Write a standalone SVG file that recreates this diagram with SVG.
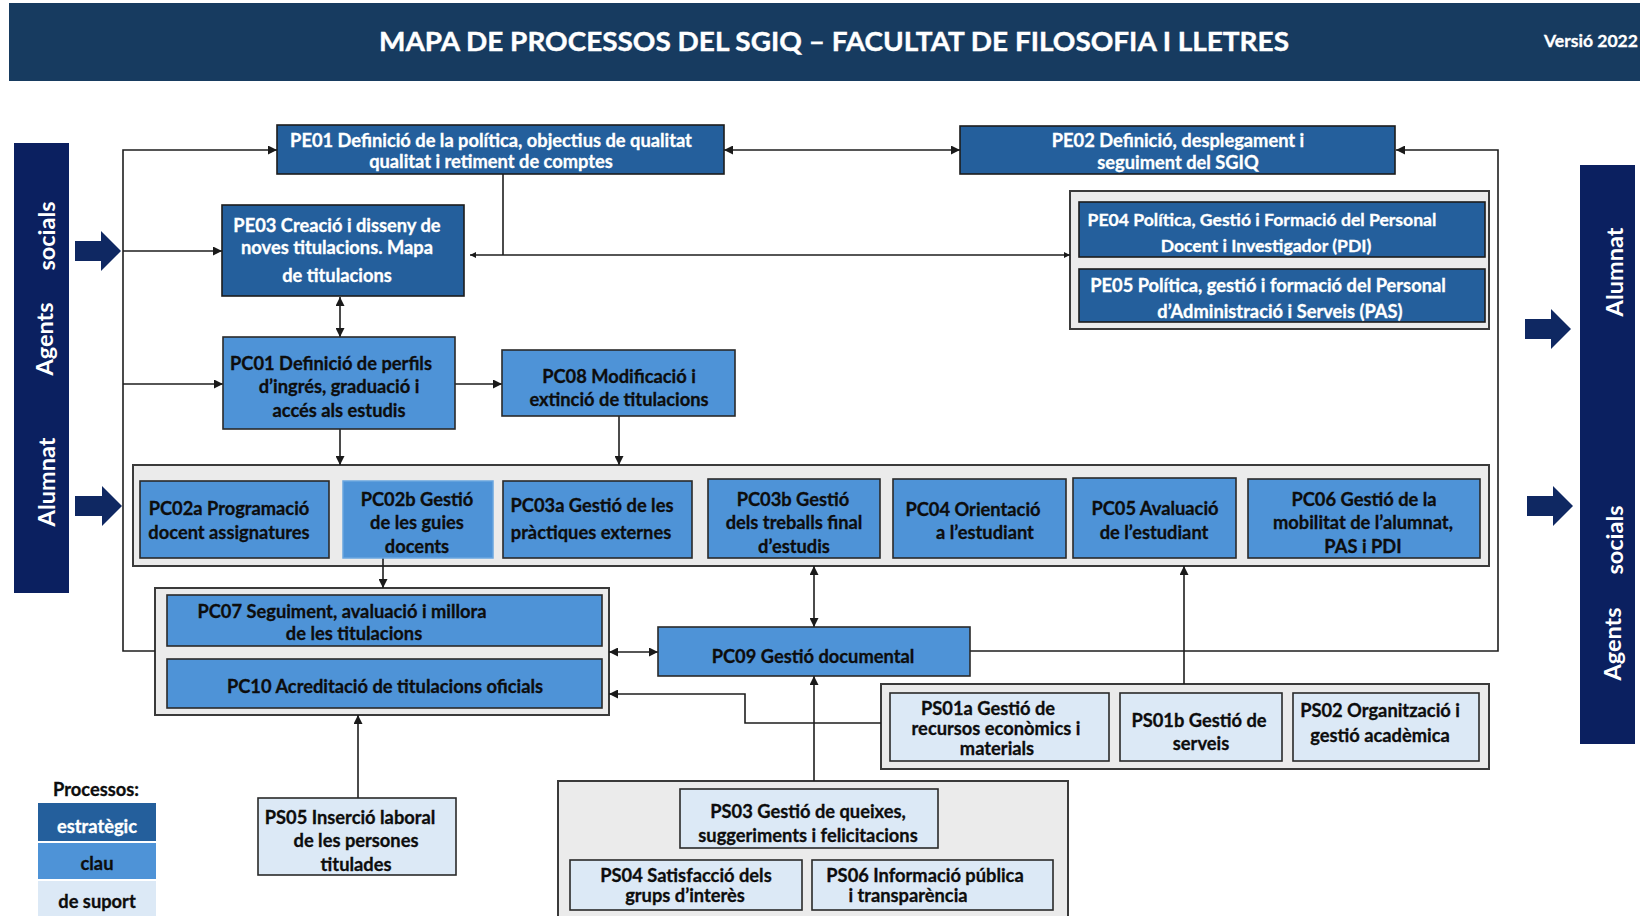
<svg xmlns="http://www.w3.org/2000/svg" width="1640" height="916" viewBox="0 0 1640 916">
<defs>
<marker id="ah" viewBox="0 0 10 10" refX="10" refY="5" markerWidth="10" markerHeight="9" markerUnits="userSpaceOnUse" orient="auto-start-reverse">
<path d="M0,0 L10,5 L0,10 z" fill="#1a1a1a"/>
</marker>
<marker id="ahs" viewBox="0 0 10 10" refX="10" refY="5" markerWidth="7" markerHeight="6" markerUnits="userSpaceOnUse" orient="auto-start-reverse">
<path d="M0,0 L10,5 L0,10 z" fill="#1a1a1a"/>
</marker>
<style>
.t{font-family:Lato,"Liberation Sans",sans-serif;font-weight:700;font-size:18.3px;text-anchor:middle;stroke-width:0.3}
.w{fill:#ffffff;stroke:#ffffff}
.d{fill:#0d0d0d;stroke:#0d0d0d}
.pe{fill:#245f9c;stroke:#1c1c1c;stroke-width:1.6}
.pc{fill:#4e93d7;stroke:#2a2a2a;stroke-width:1.6}
.ps{fill:#dce9f6;stroke:#2a2a2a;stroke-width:1.6}
.ct{fill:#ebebeb;stroke:#3a3a3a;stroke-width:2}
.bar{fill:#0b2060}
.blk{fill:#0f2862}
.side{font-family:Lato,"Liberation Sans",sans-serif;font-weight:700;font-size:23.5px;fill:#ffffff;text-anchor:middle}
.ln{fill:none;stroke:#1e1e1e;stroke-width:1.6}
</style>
</defs>
<rect width="1640" height="916" fill="#ffffff"/>

<g id="header">
<rect x="9" y="3" width="1631" height="78" fill="#173b60"/>
<text x="834" y="51" class="t w" style="font-size:27px;stroke-width:0.4" textLength="910" lengthAdjust="spacingAndGlyphs">MAPA DE PROCESSOS DEL SGIQ – FACULTAT DE FILOSOFIA I LLETRES</text>
<text x="1544" y="47" class="t w" style="font-size:17px;text-anchor:start" textLength="94" lengthAdjust="spacingAndGlyphs">Versió 2022</text>
</g>

<g id="left-bar">
<rect x="14" y="143" width="55" height="450" class="bar"/>
<text class="side" transform="translate(55,236) rotate(-90)">socials</text>
<text class="side" transform="translate(53,339) rotate(-90)">Agents</text>
<text class="side" transform="translate(55,482) rotate(-90)">Alumnat</text>
</g>
<g id="right-bar">
<rect x="1580" y="165" width="55" height="579" class="bar"/>
<text class="side" transform="translate(1623,272) rotate(-90)">Alumnat</text>
<text class="side" transform="translate(1623,540) rotate(-90)">socials</text>
<text class="side" transform="translate(1621,644) rotate(-90)">Agents</text>
</g>
<g id="block-arrows">
<path class="blk" d="M75,241 H101 V231 L121,251 L101,271 V261 H75 Z"/>
<path class="blk" d="M75,496 H102 V486 L122,506 L102,526 V516 H75 Z"/>
<path class="blk" d="M1525,319 H1551 V309 L1571,329 L1551,349 V339 H1525 Z"/>
<path class="blk" d="M1527,496 H1553 V486 L1573,506 L1553,526 V516 H1527 Z"/>
</g>

<g id="containers">
<rect id="ct-pe0405" x="1070" y="191" width="419" height="138" class="ct"/>
<rect id="ct-pc" x="133" y="465" width="1356" height="101" class="ct"/>
<rect id="ct-pc0710" x="155" y="588" width="454" height="127" class="ct"/>
<rect id="ct-ps01" x="881" y="684" width="608" height="85" class="ct"/>
<rect id="ct-ps03" x="558" y="781" width="510" height="145" class="ct"/>
</g>

<g id="connectors">
<polyline class="ln" points="155,651 123,651 123,150 277,150" marker-end="url(#ah)"/>
<line class="ln" x1="123" y1="251" x2="222" y2="251" marker-end="url(#ah)"/>
<line class="ln" x1="123" y1="384" x2="223" y2="384" marker-end="url(#ah)"/>
<line class="ln" x1="724" y1="150" x2="960" y2="150" marker-start="url(#ah)" marker-end="url(#ah)"/>
<polyline class="ln" points="970,651 1498,651 1498,150 1396,150" marker-end="url(#ah)"/>
<line class="ln" x1="503" y1="174" x2="503" y2="255"/>
<line class="ln" x1="470" y1="255" x2="1070" y2="255" marker-start="url(#ahs)" marker-end="url(#ahs)"/>
<line class="ln" x1="340" y1="297" x2="340" y2="337" marker-start="url(#ah)" marker-end="url(#ah)"/>
<line class="ln" x1="455" y1="384" x2="502" y2="384" marker-end="url(#ah)"/>
<line class="ln" x1="340" y1="429" x2="340" y2="465" marker-end="url(#ah)"/>
<line class="ln" x1="619" y1="416" x2="619" y2="465" marker-end="url(#ah)"/>
<line class="ln" x1="383" y1="558" x2="383" y2="588" marker-end="url(#ah)"/>
<line class="ln" x1="814" y1="566" x2="814" y2="627" marker-start="url(#ah)" marker-end="url(#ah)"/>
<line class="ln" x1="609" y1="652" x2="658" y2="652" marker-start="url(#ah)" marker-end="url(#ah)"/>
<line class="ln" x1="1184" y1="684" x2="1184" y2="566" marker-end="url(#ah)"/>
<polyline class="ln" points="881,723 745,723 745,694 609,694" marker-end="url(#ah)"/>
<line class="ln" x1="814" y1="781" x2="814" y2="676" marker-end="url(#ah)"/>
<line class="ln" x1="358" y1="798" x2="358" y2="715" marker-end="url(#ah)"/>
</g>

<g id="PE01">
<rect x="277" y="125" width="447" height="49" class="pe"/>
<text class="t w" x="491" y="147">PE01 Definició de la política, objectius de qualitat</text>
<text class="t w" x="491" y="168">qualitat i retiment de comptes</text>
</g>
<g id="PE02">
<rect x="960" y="126" width="435" height="48" class="pe"/>
<text class="t w" x="1178" y="147">PE02 Definició, desplegament i</text>
<text class="t w" x="1178" y="169">seguiment del SGIQ</text>
</g>
<g id="PE03">
<rect x="222" y="205" width="242" height="91" class="pe"/>
<text class="t w" x="337" y="232">PE03 Creació i disseny de</text>
<text class="t w" x="337" y="254">noves titulacions. Mapa</text>
<text class="t w" x="337" y="282">de titulacions</text>
</g>
<g id="PE04">
<rect x="1079" y="202" width="406" height="55" class="pe"/>
<text class="t w" x="1262" y="226" style="font-size:17.6px">PE04 Política, Gestió i Formació del Personal</text>
<text class="t w" x="1266" y="252" style="font-size:17.6px">Docent i Investigador (PDI)</text>
</g>
<g id="PE05">
<rect x="1079" y="269" width="406" height="53" class="pe"/>
<text class="t w" x="1268" y="292">PE05 Política, gestió i formació del Personal</text>
<text class="t w" x="1280" y="318">d’Administració i Serveis (PAS)</text>
</g>
<g id="PC01">
<rect x="223" y="337" width="232" height="92" class="pc"/>
<text class="t d" x="331" y="370">PC01 Definició de perfils</text>
<text class="t d" x="339" y="393">d’ingrés, graduació i</text>
<text class="t d" x="339" y="417">accés als estudis</text>
</g>
<g id="PC08">
<rect x="502" y="350" width="233" height="66" class="pc"/>
<text class="t d" x="619" y="383">PC08 Modificació i</text>
<text class="t d" x="619" y="406">extinció de titulacions</text>
</g>
<g id="PC02a">
<rect x="140" y="481" width="189" height="77" class="pc"/>
<text class="t d" x="229" y="515">PC02a Programació</text>
<text class="t d" x="229" y="539">docent assignatures</text>
</g>
<g id="PC02b">
<rect x="343" y="481" width="150" height="77" fill="#4e93d7" stroke="#6aa6e0" stroke-width="1.5"/>
<text class="t d" x="417" y="506">PC02b Gestió</text>
<text class="t d" x="417" y="529">de les guies</text>
<text class="t d" x="417" y="553">docents</text>
</g>
<g id="PC03a">
<rect x="503" y="481" width="189" height="77" class="pc"/>
<text class="t d" x="592" y="512">PC03a Gestió de les</text>
<text class="t d" x="591" y="539">pràctiques externes</text>
</g>
<g id="PC03b">
<rect x="708" y="479" width="172" height="79" class="pc"/>
<text class="t d" x="793" y="506">PC03b Gestió</text>
<text class="t d" x="794" y="529">dels treballs final</text>
<text class="t d" x="794" y="553">d’estudis</text>
</g>
<g id="PC04">
<rect x="893" y="479" width="173" height="79" class="pc"/>
<text class="t d" x="973" y="516">PC04 Orientació</text>
<text class="t d" x="985" y="539">a l’estudiant</text>
</g>
<g id="PC05">
<rect x="1073" y="478" width="163" height="80" class="pc"/>
<text class="t d" x="1155" y="515">PC05 Avaluació</text>
<text class="t d" x="1154" y="539">de l’estudiant</text>
</g>
<g id="PC06">
<rect x="1248" y="479" width="232" height="79" class="pc"/>
<text class="t d" x="1364" y="506">PC06 Gestió de la</text>
<text class="t d" x="1363" y="529">mobilitat de l’alumnat,</text>
<text class="t d" x="1363" y="553">PAS i PDI</text>
</g>
<g id="PC07">
<rect x="167" y="595" width="435" height="51" class="pc"/>
<text class="t d" x="342" y="618">PC07 Seguiment, avaluació i millora</text>
<text class="t d" x="354" y="640">de les titulacions</text>
</g>
<g id="PC10">
<rect x="167" y="659" width="435" height="49" class="pc"/>
<text class="t d" x="385" y="693">PC10 Acreditació de titulacions oficials</text>
</g>
<g id="PC09">
<rect x="658" y="627" width="312" height="49" class="pc"/>
<text class="t d" x="813" y="663">PC09 Gestió documental</text>
</g>
<g id="PS01a">
<rect x="890" y="693" width="219" height="68" class="ps"/>
<text class="t d" x="988" y="715">PS01a Gestió de</text>
<text class="t d" x="996" y="735">recursos econòmics i</text>
<text class="t d" x="997" y="755">materials</text>
</g>
<g id="PS01b">
<rect x="1120" y="693" width="162" height="68" class="ps"/>
<text class="t d" x="1199" y="727">PS01b Gestió de</text>
<text class="t d" x="1201" y="750">serveis</text>
</g>
<g id="PS02">
<rect x="1293" y="693" width="186" height="68" class="ps"/>
<text class="t d" x="1380" y="717">PS02 Organització i</text>
<text class="t d" x="1380" y="742">gestió acadèmica</text>
</g>
<g id="PS03">
<rect x="680" y="789" width="258" height="59" class="ps"/>
<text class="t d" x="808" y="818">PS03 Gestió de queixes,</text>
<text class="t d" x="808" y="842">suggeriments i felicitacions</text>
</g>
<g id="PS04">
<rect x="570" y="860" width="232" height="50" class="ps"/>
<text class="t d" x="686" y="882">PS04 Satisfacció dels</text>
<text class="t d" x="685" y="902">grups d’interès</text>
</g>
<g id="PS06">
<rect x="812" y="860" width="241" height="50" class="ps"/>
<text class="t d" x="925" y="882">PS06 Informació pública</text>
<text class="t d" x="908" y="902">i transparència</text>
</g>
<g id="PS05">
<rect x="258" y="798" width="198" height="77" class="ps"/>
<text class="t d" x="350" y="824">PS05 Inserció laboral</text>
<text class="t d" x="356" y="847">de les persones</text>
<text class="t d" x="356" y="871">titulades</text>
</g>

<g id="legend">
<text class="t d" x="96" y="796">Processos:</text>
<rect x="38" y="803" width="118" height="38" fill="#245f9c"/>
<text class="t w" x="97" y="833">estratègic</text>
<rect x="38" y="843" width="118" height="36" fill="#4e93d7"/>
<text class="t d" x="97" y="870">clau</text>
<rect x="38" y="881" width="118" height="35" fill="#dce9f6"/>
<text class="t d" x="97" y="908">de suport</text>
</g>
</svg>
